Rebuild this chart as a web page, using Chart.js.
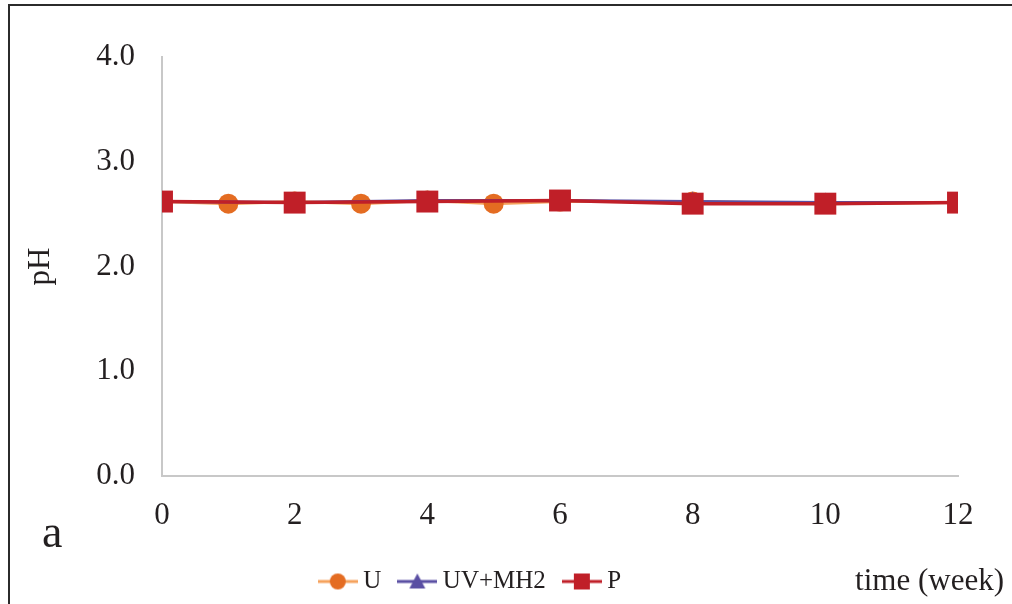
<!DOCTYPE html>
<html>
<head>
<meta charset="utf-8">
<script src="https://cdn.jsdelivr.net/npm/chart.js@4.4.0/dist/chart.umd.min.js"></script>
<style>
  body { margin: 0; background: #fff; }
  #frame { position: absolute; left: 8px; top: 4px; width: 1010px; height: 610px;
           border-left: 2px solid #2b2b2b; border-top: 2px solid #2b2b2b; }
  #wrap { position: absolute; left: 0; top: 0; width: 1012px; height: 604px; }
</style>
</head>
<body>
<div id="frame"></div>
<div id="wrap"><canvas id="chart" width="1012" height="604"></canvas></div>
<script>
// weeks and pH readings
var weeksU = [0, 1, 2, 3, 4, 5, 6, 8, 10, 12];
var valuesU = [2.62, 2.60, 2.62, 2.60, 2.63, 2.60, 2.62, 2.62, 2.60, 2.61];
var weeksUV = [0, 2, 4, 6, 8, 10, 12];
var valuesUV = [2.62, 2.61, 2.63, 2.63, 2.62, 2.61, 2.61];
var weeksP = [0, 2, 4, 6, 8, 10, 12];
var valuesP = [2.62, 2.61, 2.62, 2.63, 2.60, 2.60, 2.61];
var xTicks = [0, 2, 4, 6, 8, 10, 12];
var yTicks = [0, 1, 2, 3, 4];

var serif = "'Liberation Serif', 'Times New Roman', serif";
var textColor = '#231F20';

function pts(xs, ys) {
    return xs.map(function (x, i) { return { x: x, y: ys[i] }; });
}

// small picture for the legend: line with the marker on it
function legendIcon(lineColor, markColor, shape) {
    var c = document.createElement('canvas');
    c.width = 40; c.height = 22;
    var g = c.getContext('2d');
    g.strokeStyle = lineColor; g.lineWidth = 3;
    g.beginPath(); g.moveTo(0, 11); g.lineTo(40, 11); g.stroke();
    g.fillStyle = markColor;
    g.beginPath();
    if (shape === 'circle') g.arc(20, 11, 8, 0, Math.PI * 2);
    else if (shape === 'triangle') { g.moveTo(20, 3); g.lineTo(28, 18); g.lineTo(12, 18); g.closePath(); }
    else g.rect(12, 3, 16, 16);
    g.fill();
    return c;
}
var icons = [
    legendIcon('#F5A25C', '#E46C22', 'circle'),
    legendIcon('#5A4FA3', '#5A4FA3', 'triangle'),
    legendIcon('#C01F28', '#C01F28', 'rect')
];

var extras = {
    id: 'extras',
    afterLayout: function (chart) {
        // legend sits left of centre in the original
        chart.legend.left -= 16;
        chart.legend.right -= 16;
    },
    afterDraw: function (chart) {
        var ctx = chart.ctx;
        ctx.save();
        ctx.fillStyle = textColor;
        ctx.textBaseline = 'middle';
        ctx.textAlign = 'right';
        ctx.font = '31px ' + serif;
        ctx.fillText('time (week)', 1004, 582);
        ctx.textAlign = 'left';
        ctx.font = '46px ' + serif;
        ctx.fillText('a', 42, 535);
        ctx.restore();
    }
};

var ctx = document.getElementById('chart').getContext('2d');
var myChart = new Chart(ctx, {
    type: 'line',
    data: {
        datasets: [{
            label: 'U',
            data: pts(weeksU, valuesU),
            borderColor: '#F5A25C',
            backgroundColor: '#E46C22',
            pointBackgroundColor: '#E46C22',
            pointBorderWidth: 0,
            pointRadius: 10,
            pointStyle: 'circle',
            borderWidth: 3,
            order: 3
        }, {
            label: 'UV+MH2',
            data: pts(weeksUV, valuesUV),
            borderColor: '#5A4FA3',
            backgroundColor: '#5A4FA3',
            pointBorderWidth: 0,
            pointRadius: 10,
            pointStyle: 'triangle',
            borderWidth: 3,
            order: 2
        }, {
            label: 'P',
            data: pts(weeksP, valuesP),
            borderColor: '#C01F28',
            backgroundColor: '#C01F28',
            pointBorderWidth: 0,
            pointRadius: 15.5,
            pointStyle: 'rect',
            borderWidth: 3.5,
            order: 1
        }]
    },
    options: {
        responsive: false,
        animation: false,
        layout: { padding: { left: 20, right: 54, top: 57, bottom: 0 } },
        plugins: {
            tooltip: { enabled: false },
            legend: {
                position: 'bottom',
                labels: {
                    usePointStyle: true,
                    pointStyleWidth: 26,
                    padding: 23,
                    color: textColor,
                    font: { family: serif, size: 25 },
                    sort: function (a, b) { return a.datasetIndex - b.datasetIndex; },
                    generateLabels: function (chart) {
                        var items = Chart.defaults.plugins.legend.labels.generateLabels(chart);
                        items.forEach(function (it) { it.pointStyle = icons[it.datasetIndex]; });
                        return items;
                    }
                }
            }
        },
        scales: {
            x: {
                type: 'linear',
                min: 0, max: 12,
                afterBuildTicks: function (s) { s.ticks = xTicks.map(function (v) { return { value: v }; }); },
                afterFit: function (s) { s.height = 604 - 476 - s.chart.legend.height; },
                grid: { display: false, drawTicks: false },
                border: { color: '#C8C8C8', width: 2 },
                ticks: { padding: 21, color: textColor, font: { family: serif, size: 31 } }
            },
            y: {
                min: 0, max: 4,
                afterBuildTicks: function (s) { s.ticks = yTicks.map(function (v) { return { value: v }; }); },
                afterFit: function (s) { s.width = 142; },
                grid: { display: false, drawTicks: false },
                border: { color: '#C8C8C8', width: 2 },
                ticks: {
                    padding: 27, color: textColor, font: { family: serif, size: 31 },
                    callback: function (v) { return v.toFixed(1); }
                },
                title: {
                    display: true, text: 'pH', color: textColor, padding: 2,
                    font: { family: serif, size: 31 }
                }
            }
        }
    },
    plugins: [extras]
});
</script>
</body>
</html>
